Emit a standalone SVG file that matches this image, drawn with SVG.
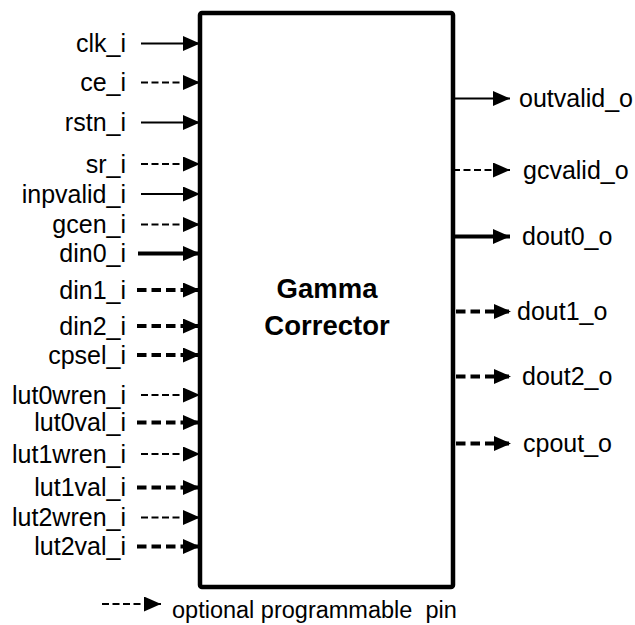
<svg xmlns="http://www.w3.org/2000/svg" width="635" height="625" viewBox="0 0 635 625">
<style>
.lbl{font-family:"Liberation Sans",Arial,sans-serif;font-size:25px;fill:#000}
.l{text-anchor:end}
.leg{font-size:23.5px;white-space:pre}
.title{font-family:"Liberation Sans",Arial,sans-serif;font-size:27.5px;font-weight:bold;text-anchor:middle;fill:#000}
.w{stroke:#000;fill:none;marker-end:url(#ah)}
.s{stroke-width:2}
.d{stroke-width:2;stroke-dasharray:7 3.5}
.S{stroke-width:4}
.D{stroke-width:4;stroke-dasharray:9.5 5}
</style>
<defs>
<marker id="ah" viewBox="0 0 17 15" refX="17" refY="7.5" markerWidth="17" markerHeight="15" markerUnits="userSpaceOnUse" orient="auto">
<path d="M0,0 L17,7.5 L0,15 z" fill="#000"/>
</marker>
</defs>
<rect width="635" height="625" fill="#fff"/>
<g id="connectors">
<line class="w s" x1="141" y1="43.5" x2="200" y2="43.5"/>
<line class="w d" x1="141" y1="82.5" x2="200" y2="82.5"/>
<line class="w s" x1="141" y1="122.5" x2="200" y2="122.5"/>
<line class="w d" x1="141" y1="164" x2="200" y2="164"/>
<line class="w s" x1="141" y1="194" x2="200" y2="194"/>
<line class="w d" x1="141" y1="224.5" x2="200" y2="224.5"/>
<line class="w S" x1="138" y1="253.5" x2="200" y2="253.5"/>
<line class="w D" x1="137" y1="290" x2="200" y2="290"/>
<line class="w D" x1="137" y1="326" x2="200" y2="326"/>
<line class="w D" x1="137" y1="355" x2="200" y2="355"/>
<line class="w d" x1="141" y1="395" x2="200" y2="395"/>
<line class="w D" x1="137" y1="422.5" x2="200" y2="422.5"/>
<line class="w d" x1="141" y1="454" x2="200" y2="454"/>
<line class="w D" x1="137" y1="487.5" x2="200" y2="487.5"/>
<line class="w d" x1="141" y1="517.5" x2="200" y2="517.5"/>
<line class="w D" x1="137" y1="546.5" x2="200" y2="546.5"/>
<line class="w s" x1="453" y1="98.5" x2="510" y2="98.5"/>
<line class="w d" x1="453" y1="170" x2="510" y2="170"/>
<line class="w S" x1="453" y1="236.5" x2="510" y2="236.5"/>
<line class="w D" x1="456" y1="311.5" x2="511" y2="311.5"/>
<line class="w D" x1="456" y1="376.5" x2="511" y2="376.5"/>
<line class="w D" x1="456" y1="443.5" x2="511" y2="443.5"/>
<line class="w d" x1="102" y1="604" x2="161" y2="604"/>
</g>
<g id="gamma_corrector">
<rect x="200" y="13" width="253" height="574" rx="2" fill="none" stroke="#000" stroke-width="4.5"/>
<text class="title" x="327" y="298">Gamma</text>
<text class="title" x="327" y="335">Corrector</text>
</g>
<g id="inputs">
<text class="lbl l" x="126" y="52">clk_i</text>
<text class="lbl l" x="126" y="91">ce_i</text>
<text class="lbl l" x="126" y="131">rstn_i</text>
<text class="lbl l" x="126" y="172.5">sr_i</text>
<text class="lbl l" x="126" y="202.5">inpvalid_i</text>
<text class="lbl l" x="126" y="233">gcen_i</text>
<text class="lbl l" x="126" y="262">din0_i</text>
<text class="lbl l" x="126" y="298.5">din1_i</text>
<text class="lbl l" x="126" y="334.5">din2_i</text>
<text class="lbl l" x="126" y="363.5">cpsel_i</text>
<text class="lbl l" x="126" y="403.5">lut0wren_i</text>
<text class="lbl l" x="126" y="431">lut0val_i</text>
<text class="lbl l" x="126" y="462.5">lut1wren_i</text>
<text class="lbl l" x="126" y="496">lut1val_i</text>
<text class="lbl l" x="126" y="526">lut2wren_i</text>
<text class="lbl l" x="126" y="555">lut2val_i</text>
</g>
<g id="outputs">
<text class="lbl" x="519" y="107">outvalid_o</text>
<text class="lbl" x="523" y="178.5">gcvalid_o</text>
<text class="lbl" x="522" y="245">dout0_o</text>
<text class="lbl" x="517" y="320">dout1_o</text>
<text class="lbl" x="522" y="385">dout2_o</text>
<text class="lbl" x="523" y="452">cpout_o</text>
</g>
<g id="legend">
<text class="lbl leg" x="172" y="618" xml:space="preserve">optional programmable  pin</text>
</g>
</svg>
